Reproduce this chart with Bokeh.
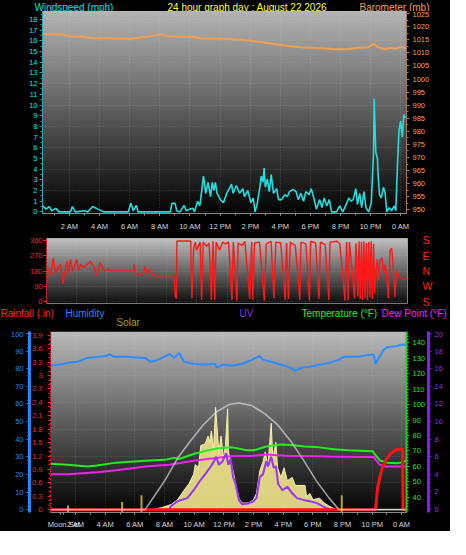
import numpy as np
from bokeh.plotting import figure
from bokeh.models import Range1d, LinearAxis, FixedTicker, CustomJSTickFormatter
from bokeh.core.properties import value
from bokeh.layouts import column
from bokeh.embed import file_html
from bokeh.resources import INLINE

FONT = "Liberation Sans"

# ---------------- data ----------------
hour_ticks = [2, 4, 6, 8, 10, 12, 14, 16, 18, 20, 22, 24]
hour_labels = ["2 AM", "4 AM", "6 AM", "8 AM", "10 AM", "12 PM",
               "2 PM", "4 PM", "6 PM", "8 PM", "10 PM", "0 AM"]

wind_hours = [
    0.22, 0.44, 0.65, 0.82, 1.08, 1.29, 1.61, 2.05, 2.19, 2.37,
    3.01, 3.20, 3.54, 3.87, 4.30, 5.90, 6.07, 6.23, 6.44, 6.55,
    8.69, 8.80, 9.01, 9.12, 9.33, 9.61, 9.76, 9.98, 10.19, 10.30,
    10.51, 10.65, 10.73, 10.90, 11.05, 11.20, 11.37, 11.48, 11.59, 11.69,
    11.80, 12.02, 12.23, 12.44, 12.66, 12.76, 12.87, 13.08, 13.30, 13.51,
    13.62, 13.84, 14.05, 14.20, 14.33, 14.48, 14.63, 14.74, 14.85, 14.93,
    15.01, 15.14, 15.27, 15.40, 15.55, 15.77, 15.88, 16.09, 16.30, 16.47,
    16.62, 16.84, 17.05, 17.20, 17.37, 17.55, 17.70, 17.91, 18.06, 18.23,
    18.40, 18.62, 18.77, 18.92, 19.09, 19.26, 19.41, 19.74, 19.95, 20.16,
    20.38, 20.55, 20.70, 20.85, 21.02, 21.13, 21.28, 21.41, 21.56, 21.70,
    21.88, 22.05, 22.20, 22.24, 22.35, 22.46, 22.50, 22.60, 22.71, 22.86,
    22.97, 23.08, 23.25, 23.40, 23.57, 23.68, 23.79, 23.89, 24.00, 24.11,
    24.21, 24.32]
wind_mph = [
    0.56, 0.26, 0.50, 0.10, 0.33, 0.0, 0.0, 0.0, 0.50, 0.0,
    0.10, 0.0, 0.50, 0.26, 0.0, 0.0, 0.80, 0.10, 0.60, 0.0,
    0.0, 0.80, 0.80, 0.10, 0.0, 0.60, 0.10, 0.26, 0.33, 0.0,
    1.00, 0.56, 1.40, 3.35, 1.74, 2.76, 1.44, 2.76, 2.00, 2.76,
    1.74, 1.15, 0.86, 1.74, 2.30, 2.60, 1.74, 2.47, 1.74, 2.18,
    1.44, 2.00, 0.86, 1.30, 0.0, 0.86, 2.18, 3.35, 2.76, 4.10,
    2.30, 3.06, 1.90, 3.50, 1.74, 2.18, 1.15, 1.15, 1.60, 1.44,
    1.90, 2.10, 1.90, 1.15, 1.74, 1.00, 1.90, 1.60, 2.18, 1.30,
    0.26, 1.15, 0.40, 1.30, 0.56, 1.15, 0.0, 0.0, 0.56, 0.0,
    0.70, 1.30, 1.00, 1.15, 2.18, 0.70, 1.74, 0.40, 1.90, 0.40,
    0.0, 0.86, 5.56, 10.6, 5.56, 4.97, 3.50, 1.60, 1.30, 2.30,
    1.74, 0.0, 0.40, 0.10, 0.56, 0.10, 4.40, 7.60, 8.50, 7.00,
    9.10, 8.80]

baro_hours = [0.22, 1.49, 1.94, 3.01, 3.42, 4.51, 5.99, 6.63, 7.73, 8.09,
              8.37, 10.09, 10.73, 12.23, 13.71, 14.99, 16.28, 17.36, 18.85, 19.71,
              20.46, 21.00, 21.86, 22.22, 22.50, 22.93, 23.36, 23.68, 24.00, 24.39]
baro_mb = [1017.2, 1017.1, 1016.4, 1016.2, 1015.6, 1015.6, 1015.4, 1015.8, 1016.6, 1017.2,
           1016.4, 1016.2, 1015.6, 1015.4, 1014.8, 1014.0, 1012.8, 1012.2, 1011.8, 1011.4,
           1011.4, 1011.9, 1012.2, 1013.4, 1012.2, 1011.4, 1012.0, 1011.6, 1012.2, 1011.8]

dir_hours = [
    0.13, 0.24, 0.34, 0.45, 0.60, 0.77, 0.95, 1.09, 1.20, 1.37,
    1.46, 1.59, 1.74, 1.89, 2.01, 2.12, 2.27, 2.49, 2.70, 2.91,
    3.13, 3.35, 3.56, 3.73, 3.88, 4.10, 4.30, 5.79, 5.81, 5.92,
    6.43, 6.56, 6.67, 6.82, 6.99, 7.21, 7.38, 8.49, 8.56, 8.64,
    8.67, 9.59, 9.61, 9.67, 9.78, 9.89, 9.97, 10.21, 10.31, 10.42,
    10.64, 10.81, 10.96, 11.07, 11.18, 11.28, 11.50, 11.71, 11.90, 12.10,
    12.33, 12.42, 12.66, 12.74, 13.00, 13.19, 13.51, 13.64, 13.72, 13.83,
    14.16, 14.48, 14.61, 14.93, 15.12, 15.25, 15.57, 15.87, 15.96, 16.09,
    16.21, 16.54, 16.84, 16.92, 17.24, 17.48, 17.56, 17.89, 18.12, 18.21,
    18.53, 18.77, 18.85, 19.30, 19.50, 19.84, 19.95, 20.05, 20.14, 20.48,
    20.57, 20.70, 20.78, 20.86, 20.94, 21.02, 21.10, 21.18, 21.26, 21.34,
    21.42, 21.50, 21.58, 21.66, 21.74, 21.81, 21.88, 21.98, 22.09, 22.15,
    22.31, 22.41, 22.52, 22.63, 22.73, 22.84, 22.95, 23.05, 23.16, 23.27,
    23.48, 23.70, 24.00]
dir_deg = [
    200, 152, 190, 257, 166, 200, 219, 105, 171, 238,
    166, 248, 181, 219, 248, 181, 219, 200, 219, 238,
    209, 152, 228, 200, 181, 190, 181, 181, 219, 162,
    162, 209, 162, 190, 162, 147, 143, 143, 29, 19,
    357, 357, 219, 19, 314, 350, 302, 350, 10, 350,
    326, 345, 10, 357, 10, 350, 302, 350, 340, 350,
    10, 350, 5, 345, 330, 355, 15, 350, 10, 345,
    350, 5, 340, 355, 20, 350, 345, 10, 345, 15,
    350, 330, 10, 350, 340, 5, 355, 345, 15, 350,
    335, 10, 350, 355, 340, 5, 350, 10, 350, 20,
    345, 30, 355, 15, 350, 10, 355, 20, 345, 10,
    350, 25, 355, 15, 340, 48, 143, 248, 126, 238,
    257, 162, 219, 133, 19, 302, 314, 200, 29, 181,
    143, 130, 134]

hum_hours = [0.30, 0.83, 1.48, 2.13, 2.78, 3.44, 4.09, 4.28, 4.61, 5.39,
             6.05, 6.70, 7.03, 7.35, 7.68, 8.33, 8.66, 8.98, 9.31, 9.96,
             10.62, 11.40, 11.53, 11.92, 12.57, 13.23, 13.88, 14.40, 14.66, 15.19,
             15.84, 16.49, 16.82, 17.27, 17.80, 18.45, 19.10, 19.75, 20.08, 21.06,
             21.71, 22.10, 22.23, 22.50, 22.76, 23.02, 23.67, 23.93, 24.32]
hum_pct = [81.7, 82.2, 83.3, 83.9, 86.1, 86.7, 87.2, 88.1, 86.7, 86.7,
           86.4, 86.1, 83.9, 84.4, 85.6, 88.3, 86.1, 88.9, 83.9, 82.8,
           82.2, 82.8, 80.6, 82.2, 81.7, 82.8, 85.0, 87.2, 85.0, 83.9,
           82.2, 80.6, 78.9, 80.6, 81.1, 82.2, 83.3, 85.0, 86.7, 86.7,
           87.8, 88.1, 82.8, 86.7, 90.6, 92.2, 92.8, 93.6, 93.6]

temp_hours = [0.30, 1.48, 2.78, 3.44, 4.74, 6.70, 8.01, 8.66, 8.98, 9.96,
              10.94, 11.60, 12.57, 13.55, 14.01, 14.86, 15.84, 16.49, 17.47, 18.45,
              19.43, 20.41, 22.04, 22.23, 22.56, 23.02, 23.67, 23.93, 24.32]
temp_f = [61.7, 61.1, 59.9, 60.5, 62.4, 63.6, 64.2, 65.5, 64.8, 68.0,
          70.4, 71.7, 72.3, 70.4, 70.4, 72.9, 74.2, 73.9, 72.9, 72.3,
          71.1, 70.4, 69.8, 67.3, 63.6, 62.4, 62.0, 62.4, 63.6]

dew_hours = [0.30, 1.48, 3.44, 4.74, 6.70, 8.33, 9.96, 11.60, 12.57, 13.88,
             14.86, 16.49, 17.80, 19.10, 21.06, 22.10, 22.50, 22.89, 24.32]
dew_f = [54.9, 54.9, 56.1, 57.4, 59.9, 61.1, 63.6, 65.5, 66.7, 66.7,
         67.6, 66.7, 66.7, 66.4, 66.1, 66.1, 61.1, 59.9, 59.9]

solar_hours = [0.30, 7.16, 7.78, 8.44, 8.87, 9.31, 9.64, 9.96, 10.07, 10.29,
               10.44, 10.73, 10.94, 11.05, 11.15, 11.31, 11.44, 11.53, 11.66, 11.81,
               11.97, 12.10, 12.25, 12.31, 12.46, 12.62, 12.79, 13.01, 13.23, 13.66,
               13.99, 14.20, 14.42, 14.64, 14.79, 14.97, 15.19, 15.30, 15.51, 15.62,
               15.84, 16.06, 16.28, 16.61, 16.82, 17.47, 17.58, 17.80, 18.01, 18.45,
               18.77, 19.10, 19.54, 19.70, 24.32]
solar_wm2 = [0, 0, 15, 40, 77, 152, 202, 278, 352, 330,
             502, 515, 577, 527, 615, 480, 802, 652, 452, 577,
             402, 502, 790, 452, 377, 302, 202, 90, 52, 52,
             77, 127, 302, 377, 452, 340, 677, 402, 527, 327,
             252, 327, 227, 252, 190, 190, 102, 127, 77, 90,
             52, 27, 2, 0, 0]

smax_hours = [0.30, 6.50, 6.70, 7.35, 8.01, 8.87, 9.75, 10.62, 11.48, 12.36,
              13.01, 13.88, 14.75, 15.62, 16.49, 17.36, 18.23, 19.10, 19.75, 19.89, 24.32]
smax_wm2 = [0, 0, 2, 115, 227, 402, 540, 665, 765, 823,
            835, 815, 752, 665, 540, 390, 227, 90, 2, 0, 0]

uv_hours = [8.30, 8.44, 8.87, 9.53, 9.96, 10.40, 10.73, 11.05, 11.27, 11.48,
            11.66, 11.92, 12.14, 12.31, 12.46, 12.62, 12.79, 13.01, 13.23, 13.66,
            13.99, 14.20, 14.42, 14.64, 14.86, 14.97, 15.19, 15.36, 15.51, 15.66,
            15.95, 16.28, 16.61, 16.93, 17.36, 17.80, 18.23, 18.89, 19.21]
uv_index = [0, 0.4, 0.95, 1.3, 2.2, 3.3, 4.0, 4.75, 5.3, 6.0,
            5.1, 5.5, 6.4, 5.1, 5.8, 3.7, 2.9, 1.1, 0.6, 0.7,
            0.95, 1.3, 3.7, 4.0, 5.5, 4.9, 6.0, 4.75, 4.9, 2.9,
            2.2, 2.6, 1.85, 1.3, 1.1, 0.95, 0.76, 0.2, 0]

rain_hours = [0.30, 22.23, 22.36, 22.56, 22.76, 23.02, 23.28, 23.54, 23.80, 24.06, 24.09, 24.32]
rain_in = [0, 0, 0.47, 0.79, 1.00, 1.16, 1.26, 1.33, 1.35, 1.35, 0, 0]

event_hours = [1.48, 5.13, 6.44, 19.95]
event_top_in = [0.09, 0.17, 0.32, 0.32]
moon_set_hour = 1.2
moon_set_label = "Moon Set"

dir_ticks = [0, 90, 180, 270, 360]
dir_letters = {360: "S", 270: "E", 180: "N", 90: "W", 0: "S"}

top_titles = ["Windspeed (mph)", "24 hour graph day : August 22 2026", "Barometer (mb)"]
top_title_colors = ["#00e0f0", "#ffff20", "#f4a050"]
bottom_titles = ["Rainfall (.in)", "Humidity", "Solar", "UV", "Temperature (°F)", "Dew Point (°F)"]
bottom_title_colors = ["#ff2020", "#2088ff", "#a8a010", "#8a30e8", "#20f020", "#ff20ff"]


# ---------------- helpers ----------------
def base_fig(h, xr, yr, l, r, t, b, outline):
    p = figure(width=450, height=h, x_range=xr, y_range=yr,
               output_backend="svg", toolbar_location=None,
               min_border_left=l, min_border_right=r,
               min_border_top=t, min_border_bottom=b,
               background_fill_color="black", border_fill_color="black")
    p.outline_line_color = outline
    p.frame_align = False
    return p


def strip(h):
    p = figure(width=450, height=h, x_range=Range1d(0, 450), y_range=Range1d(0, h),
               output_backend="svg", toolbar_location=None,
               x_axis_type=None, y_axis_type=None,
               min_border_left=0, min_border_right=0, min_border_top=0, min_border_bottom=0,
               background_fill_color="black", border_fill_color="black")
    p.outline_line_color = None
    p.grid.visible = False
    p.frame_align = False
    return p


def gradient(p, xr, yr, top, bottom, n=240):
    v = np.linspace(bottom, top, n).astype(np.uint8)
    img = np.zeros((n, 1), dtype=np.uint32)
    view = img.view(dtype=np.uint8).reshape((n, 1, 4))
    view[:, 0, 0] = v
    view[:, 0, 1] = v
    view[:, 0, 2] = v
    view[:, 0, 3] = 255
    p.image_rgba(image=[img], x=xr.start, y=yr.start,
                 dw=xr.end - xr.start, dh=yr.end - yr.start, level="image")


def style_grid(p, yticks):
    p.xgrid.ticker = FixedTicker(ticks=hour_ticks)
    p.ygrid.ticker = FixedTicker(ticks=yticks)
    for g in (p.xgrid, p.ygrid):
        g.grid_line_color = "#e8e8e8"
        g.grid_line_alpha = 0.22
        g.grid_line_dash = "1 2"


def style_axis(ax, label_color, tick_color, line_color=None, size="7.5px",
               standoff=2, tick_out=3, minor_out=2):
    ax.major_label_text_color = label_color
    ax.major_label_text_font = FONT
    ax.major_label_text_font_size = size
    ax.major_tick_line_color = tick_color
    ax.minor_tick_line_color = tick_color
    ax.axis_line_color = line_color
    ax.major_tick_in = 0
    ax.minor_tick_in = 0
    ax.major_tick_out = tick_out
    ax.minor_tick_out = minor_out
    ax.major_label_standoff = standoff


def style_xaxis(ax, standoff, extra=None):
    ticks = list(hour_ticks)
    overrides = {t: s for t, s in zip(hour_ticks, hour_labels)}
    if extra:
        for t, s in extra:
            ticks.insert(0, t)
            overrides[t] = s
    ax.ticker = FixedTicker(ticks=ticks, minor_ticks=list(range(1, 25)))
    ax.major_label_overrides = overrides
    style_axis(ax, "#d8d8d8", "#9a9a9a", line_color="#8a8a8a", size="7.5px",
               standoff=standoff, tick_out=2, minor_out=2)


# ---------------- header strip (top) ----------------
h1 = strip(11)
h1.text(x=[34, 167, 359], y=[5.5, 5.5, 5.5], text=top_titles, text_color=top_title_colors,
        text_font=value(FONT), text_font_size="10px", text_baseline="middle")

# ---------------- top panel: wind + barometer ----------------
x1 = Range1d(0.2, 24.39)
y1 = Range1d(-0.15, 18.75)
p1 = base_fig(222, x1, y1, 42, 44, 0, 15, "#b8b8b8")
p1.extra_y_ranges = {"baro": Range1d(948.57, 1025.83)}
gradient(p1, x1, y1, 180, 4)
style_grid(p1, list(range(0, 19, 2)))

ax = p1.yaxis[0]
ax.ticker = FixedTicker(ticks=list(range(0, 19)), minor_ticks=[i * 0.5 for i in range(38)])
style_axis(ax, "#00e4ff", "#18a0a8", line_color="#20b0b8", standoff=2)
style_xaxis(p1.xaxis[0], 6)

bax = LinearAxis(y_range_name="baro")
bax.ticker = FixedTicker(ticks=list(range(950, 1030, 5)),
                         minor_ticks=[950 + i * 2.5 for i in range(31)])
style_axis(bax, "#f4a050", "#b07840", line_color="#a07850", standoff=3)
p1.add_layout(bax, "right")

p1.line(baro_hours, baro_mb, y_range_name="baro", line_color="#f0a050", line_width=2)
p1.line(wind_hours, wind_mph, line_color="#22dede", line_width=1.6)

# ---------------- middle panel: wind direction ----------------
x2 = Range1d(0, 24)
y2 = Range1d(-11.4, 371.4)
p2 = base_fig(74, x2, y2, 46, 43, 5, 4, "#a0a0a0")
gradient(p2, x2, y2, 192, 14)
style_grid(p2, dir_ticks)
p2.xaxis.visible = False
dax = p2.yaxis[0]
dax.ticker = FixedTicker(ticks=dir_ticks)
style_axis(dax, "#ff2424", "#ff2020", line_color="#c02020", standoff=1)

lax = LinearAxis()
lax.ticker = FixedTicker(ticks=dir_ticks)
lax.major_label_overrides = dir_letters
style_axis(lax, "#ff2020", None, line_color=None, size="10.5px", standoff=15,
           tick_out=0, minor_out=0)
p2.add_layout(lax, "right")

p2.line(dir_hours, dir_deg, line_color="#ff1818", line_width=1.4)

# ---------------- header strip (bottom) ----------------
h3 = strip(24)
h3.text(x=[0, 65, 116, 239, 301, 381], y=[18.3, 18.3, 8.6, 18.3, 18.3, 18.3],
        text=bottom_titles, text_color=bottom_title_colors,
        text_font=value(FONT), text_font_size="10px", text_baseline="middle")

# ---------------- bottom panel ----------------
x3 = Range1d(0.3, 24.32)
y3 = Range1d(-0.064, 3.986)
p3 = base_fig(200, x3, y3, 50, 44, 0, 16, None)
p3.extra_y_ranges = {"hum": Range1d(-1.63, 101.1), "temp": Range1d(30.06, 147.45),
                     "uv": Range1d(-0.33, 20.22), "solar": Range1d(-22.5, 1395)}
gradient(p3, x3, y3, 186, 4)
style_grid(p3, [0, 0.6, 1.2, 1.8, 2.4, 3.0, 3.6])

rax = p3.yaxis[0]
rax.ticker = FixedTicker(ticks=[0, 0.3, 0.6, 0.9, 1.2, 1.5, 1.8, 2.1, 2.4, 2.7, 3, 3.3, 3.6, 3.9],
                         minor_ticks=[i * 0.1 for i in range(40)])
rax.formatter = CustomJSTickFormatter(code="return (Math.round(tick*10)/10).toString();")
style_axis(rax, "#ff2020", "#ff2020", line_color="#ff2020", standoff=5)
rax.axis_line_dash = "2 2"
rax.axis_line_width = 1.5

hax = LinearAxis(y_range_name="hum")
hax.ticker = FixedTicker(ticks=list(range(0, 101, 10)), minor_ticks=list(range(0, 101, 2)))
style_axis(hax, "#2088ff", "#2088ff", line_color="#2088ff", standoff=3)
hax.axis_line_width = 3
p3.add_layout(hax, "left")

tax = LinearAxis(y_range_name="temp")
tax.ticker = FixedTicker(ticks=list(range(40, 141, 10)), minor_ticks=list(range(32, 148, 2)))
style_axis(tax, "#20e820", "#20c020", line_color="#20d020", standoff=3)
tax.axis_line_width = 2
p3.add_layout(tax, "right")

uax = LinearAxis(y_range_name="uv")
uax.ticker = FixedTicker(ticks=list(range(0, 21, 2)), minor_ticks=[i * 0.5 for i in range(41)])
style_axis(uax, "#9030f0", "#8020e0", line_color="#8020f0", standoff=3)
uax.axis_line_width = 3
p3.add_layout(uax, "right")

style_xaxis(p3.xaxis[0], 5, extra=[(moon_set_hour, moon_set_label)])

p3.varea(x=solar_hours, y1=[0] * len(solar_hours), y2=solar_wm2, y_range_name="solar",
         fill_color="#e8dc88", fill_alpha=0.95)
p3.line(solar_hours, solar_wm2, y_range_name="solar", line_color="#f6f0b0", line_width=1)
p3.line(hum_hours, hum_pct, y_range_name="hum", line_color="#2a8cff", line_width=2)
p3.line(temp_hours, temp_f, y_range_name="temp", line_color="#22ee22", line_width=2)
p3.line(dew_hours, dew_f, y_range_name="temp", line_color="#ee22ee", line_width=2)
p3.line(uv_hours, uv_index, y_range_name="uv", line_color="#9a34f4", line_width=2)
p3.line(rain_hours, rain_in, line_color="#ff1010", line_width=3)
p3.segment(x0=event_hours, y0=[y3.start] * len(event_hours), x1=event_hours, y1=event_top_in,
           line_color="#b4a41e", line_width=2)
p3.line(smax_hours, smax_wm2, y_range_name="solar", line_color="#d8d8d8", line_width=1.6,
        line_alpha=0.7)

layout = column(h1, p1, p2, h3, p3, spacing=0)
layout.styles = {"background-color": "black"}
open("out.html", "w").write(file_html(layout, INLINE))
